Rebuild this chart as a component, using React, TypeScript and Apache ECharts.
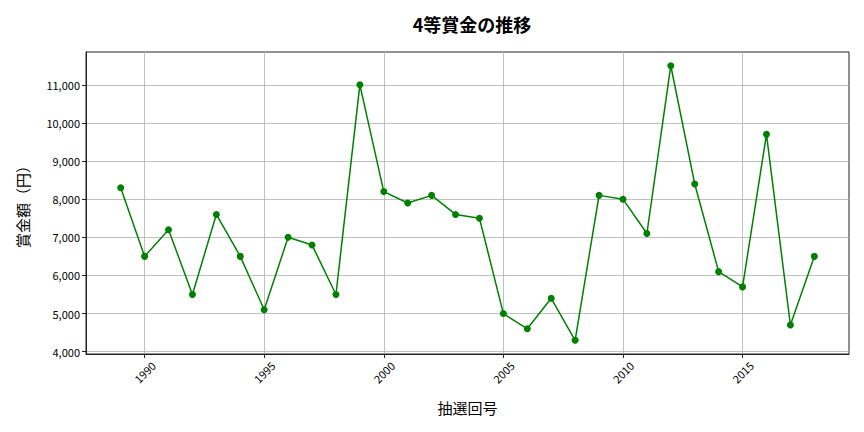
import React, { useEffect, useRef } from "react";
import * as echarts from "echarts";

const years = [1989, 1990, 1991, 1992, 1993, 1994, 1995, 1996, 1997, 1998, 1999, 2000, 2001, 2002, 2003, 2004, 2005, 2006, 2007, 2008, 2009, 2010, 2011, 2012, 2013, 2014, 2015, 2016, 2017, 2018];
const prizes = [8300, 6500, 7200, 5500, 7600, 6500, 5100, 7000, 6800, 5500, 11000, 8200, 7900, 8100, 7600, 7500, 5000, 4600, 5400, 4300, 8100, 8000, 7100, 11500, 8400, 6100, 5700, 9700, 4700, 6500];
const xTicks = [1990, 1995, 2000, 2005, 2010, 2015];
const yTicks = [4000, 5000, 6000, 7000, 8000, 9000, 10000, 11000];

const FONT = "'Noto Sans CJK JP', 'Noto Sans', sans-serif";

export default function App() {
  const ref = useRef<HTMLDivElement>(null);
  useEffect(() => {
    if (!ref.current) return;
    const chart = echarts.init(ref.current, null, { renderer: "svg" });
    chart.setOption({
      animation: false,
      backgroundColor: "#ffffff",
      title: {
        text: "4等賞金の推移",
        left: 467,
        textAlign: "center",
        top: 10,
        textStyle: { fontFamily: FONT, fontSize: 18, fontWeight: "bold", color: "#000" },
      },
      grid: {
        left: 86, right: 15, top: 52, bottom: 78,
        show: true, borderColor: "#222", borderWidth: 1,
      },
      xAxis: {
        type: "value",
        min: 1987.55,
        max: 2019.45,
        name: "抽選回号",
        nameLocation: "middle",
        nameGap: 46,
        nameTextStyle: { fontFamily: FONT, fontSize: 15, color: "#000" },
        axisLine: { show: true, lineStyle: { color: "#222" } },
        axisTick: { show: true, customValues: xTicks, length: 4, lineStyle: { color: "#222" } },
        axisLabel: {
          customValues: xTicks, rotate: 45, align: "center", verticalAlign: "middle",
          fontFamily: FONT, fontSize: 11, color: "#000", margin: 18,
          formatter: (v: number) => String(v),
        },
        splitLine: { show: true, lineStyle: { color: "#b0b0b0", width: 0.8 } },
      },
      yAxis: {
        type: "value",
        min: 3940,
        max: 11860,
        name: "賞金額（円）",
        nameLocation: "middle",
        nameGap: 56,
        nameTextStyle: { fontFamily: FONT, fontSize: 15, color: "#000" },
        axisLine: { show: true, lineStyle: { color: "#222" } },
        axisTick: { show: true, customValues: yTicks, length: 4, lineStyle: { color: "#222" } },
        axisLabel: {
          customValues: yTicks, fontFamily: FONT, fontSize: 11, color: "#000", margin: 6,
          formatter: (v: number) => v.toLocaleString("en-US"),
        },
        splitLine: { show: true, lineStyle: { color: "#b0b0b0", width: 0.8 } },
      },
      series: [
        {
          type: "line",
          data: years.map((y, i) => [y, prizes[i]]),
          symbol: "circle",
          symbolSize: 7,
          lineStyle: { color: "#008000", width: 1.5 },
          itemStyle: { color: "#008000" },
        },
      ],
    });
    return () => chart.dispose();
  }, []);
  return <div ref={ref} style={{ width: 864, height: 432, position: "absolute", left: 0, top: 0 }} />;
}
